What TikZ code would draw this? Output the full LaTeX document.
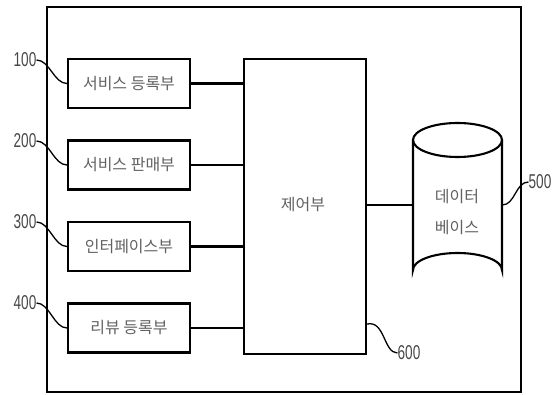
\documentclass[tikz,border=0pt]{standalone}
\usepackage{fontspec}
\setmainfont{Noto Sans CJK KR}
\newfontfamily\numfont[FakeStretch=0.68]{Liberation Sans}
\begin{document}
\begin{tikzpicture}[x=1pt,y=-1pt,
  box/.style={draw, line width=2.1pt, minimum width=122pt, minimum height=49pt, inner sep=0pt,
    font=\fontsize{16}{18}\selectfont, text=black!62},
  lbl/.style={inner sep=0pt, font=\numfont\fontsize{20}{20}\selectfont, text=black!72},
  wire/.style={line width=2.1pt},
  lead/.style={line width=1.3pt}]
\useasboundingbox (0,0) rectangle (558,395);
\draw[line width=2.2pt] (47,7) rectangle (521,392);
% left boxes
\node[box] (b1) at (129,83.5) {서비스 등록부};
\node[box] (b2) at (129,165) {서비스 판매부};
\node[box] (b3) at (129,246.5) {인터페이스부};
\node[box] (b4) at (129,328) {리뷰 등록부};
% controller
\node[draw, line width=2.1pt, minimum width=122pt, minimum height=295pt, inner sep=0pt] (ctrl) at (305,206.5) {};
\node[inner sep=0pt, font=\fontsize{16}{18}\selectfont, text=black!62] (ctxt) at (303,205) {제어부};
% database cylinder
\node[minimum width=89pt, minimum height=130pt, inner sep=0pt] (db) at (457.5,205) {};
\draw[line width=2.1pt] (457.5,140) ellipse [x radius=44.5, y radius=17];
\draw[line width=2.1pt] (413,140) -- (413,270) arc[start angle=180, end angle=360, x radius=44.5, y radius=17] -- (502,140);
\node[inner sep=0pt, align=center, font=\fontsize{16}{31}\selectfont, text=black!62] (dbtxt) at (457,212) {데이터\\베이스};
% wires
\foreach \b in {b1,b2,b3,b4}
  \draw[wire] (\b.east) -- (\b.east -| ctrl.west);
\draw[wire] (ctrl.east |- db.west) -- (db.west);
% labels and leaders
\node[lbl] (l1) at (25,60) {100};
\node[lbl] (l2) at (25,141) {200};
\node[lbl] (l3) at (25,222) {300};
\node[lbl] (l4) at (25,303) {400};
\node[lbl] (l5) at (540,182) {500};
\node[lbl] (l6) at (409,353) {600};
\draw[lead] (l1.east) .. controls +(13,0) and +(-13,0) .. (b1.west);
\draw[lead] (l2.east) .. controls +(13,0) and +(-13,0) .. (b2.west);
\draw[lead] (l3.east) .. controls +(13,0) and +(-13,0) .. (b3.west);
\draw[lead] (l4.east) .. controls +(13,0) and +(-13,0) .. (b4.west);
\draw[lead] (l5.west) .. controls +(-13,0) and +(13,0) .. (db.east);
\draw[lead] ([yshift=31pt]ctrl.south east) .. controls +(18,-4) and +(-14,0) .. (l6.west);
\end{tikzpicture}
\end{document}
